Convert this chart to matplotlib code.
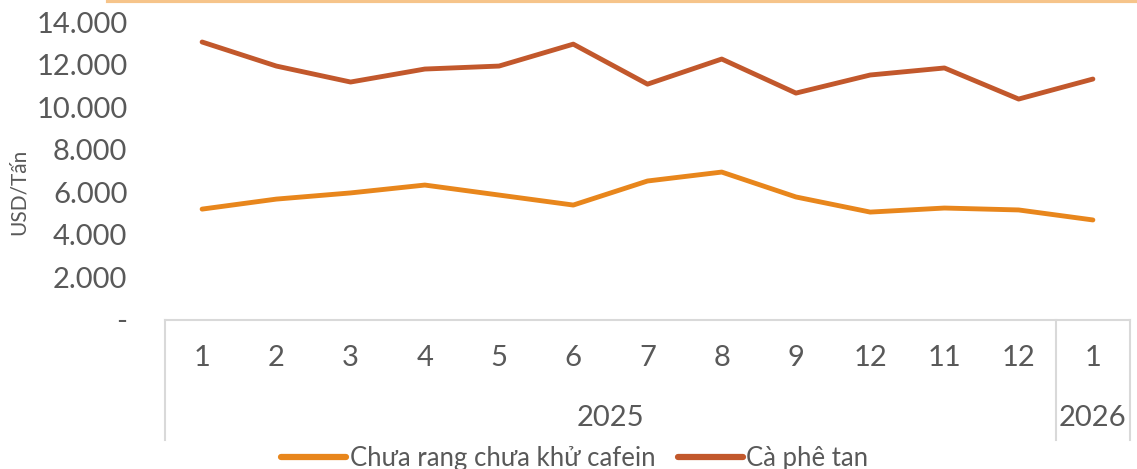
import matplotlib
matplotlib.use("Agg")
import matplotlib.pyplot as plt
from matplotlib.lines import Line2D
from matplotlib.ticker import FuncFormatter

plt.rcParams['font.family'] = ['Lato', 'DejaVu Sans']

months = ['1', '2', '3', '4', '5', '6', '7', '8', '9', '12', '11', '12', '1']
years = ['2025', '2026']
year_counts = [12, 1]

chua_rang = [5210, 5680, 5970, 6340, 5870, 5400, 6530, 6950, 5780, 5070, 5260, 5170, 4700]
ca_phe_tan = [13060, 11930, 11180, 11790, 11930, 12960, 11080, 12260, 10660, 11510, 11840, 10380, 11320]

c_orange = '#E8861C'
c_brown = '#C2582C'
grid_c = '#D9D9D9'
txt_c = '#595959'

W, H = 1137, 469
fig = plt.figure(figsize=(W / 100, H / 100), dpi=100)
left, right, bottom, top = 165 / W, 1130 / W, 1 - 320 / H, 1 - 22 / H
ax = fig.add_axes([left, bottom, right - left, top - bottom])

x = list(range(len(months)))
ax.plot(x, chua_rang, color=c_orange, lw=3.5, solid_capstyle='round',
        label='Chưa rang chưa khử cafein')
ax.plot(x, ca_phe_tan, color=c_brown, lw=3.5, solid_capstyle='round',
        label='Cà phê tan')

ax.set_xlim(-0.5, len(months) - 0.5)
ax.set_ylim(0, 14000)
ax.set_yticks(range(0, 14001, 2000))
ax.yaxis.set_major_formatter(FuncFormatter(
    lambda v, p: '-' if v == 0 else f'{int(v):,}'.replace(',', '.')))
ax.tick_params(axis='y', length=0, pad=27, labelsize=21, labelcolor=txt_c)
ax.set_xticks([])
for s in ['top', 'right', 'left']:
    ax.spines[s].set_visible(False)
ax.spines['bottom'].set_color(grid_c)
ax.spines['bottom'].set_linewidth(1.5)

ax.set_ylabel('USD/Tấn', fontsize=15, color=txt_c)
ax.yaxis.set_label_coords(-(165 - 29) / (right - left) / W, 0.43)

# multi-level category axis
fig_y_month = 1 - 358 / H
fig_y_year = 1 - 418 / H
y_box_bottom = 1 - 440 / H
for i, m in enumerate(months):
    fx = left + (i + 0.5) / len(months) * (right - left)
    fig.text(fx, fig_y_month, m, ha='center', va='center', fontsize=21, color=txt_c)

start = 0
edges = [0]
for yr, n in zip(years, year_counts):
    fx = left + (start + n / 2) / len(months) * (right - left)
    fig.text(fx, fig_y_year, yr, ha='center', va='center', fontsize=21, color=txt_c)
    start += n
    edges.append(start)
for e in edges:
    fx = left + e / len(months) * (right - left)
    fig.add_artist(Line2D([fx, fx], [bottom, y_box_bottom], color=grid_c, lw=1.5))

# top border of chart area
fig.add_artist(Line2D([108 / W, 1.0], [1 - 1.5 / H, 1 - 1.5 / H], color='#F6C48A', lw=3))

leg = fig.legend(loc='center', bbox_to_anchor=(575 / W, 1 - 458 / H), ncol=2, frameon=False,
                 fontsize=18.5, handlelength=2.5, handletextpad=0.15, columnspacing=0.9)
for line in leg.get_lines():
    line.set_linewidth(4.5)
for t in leg.get_texts():
    t.set_color(txt_c)

fig.savefig('out.png', dpi=100)
